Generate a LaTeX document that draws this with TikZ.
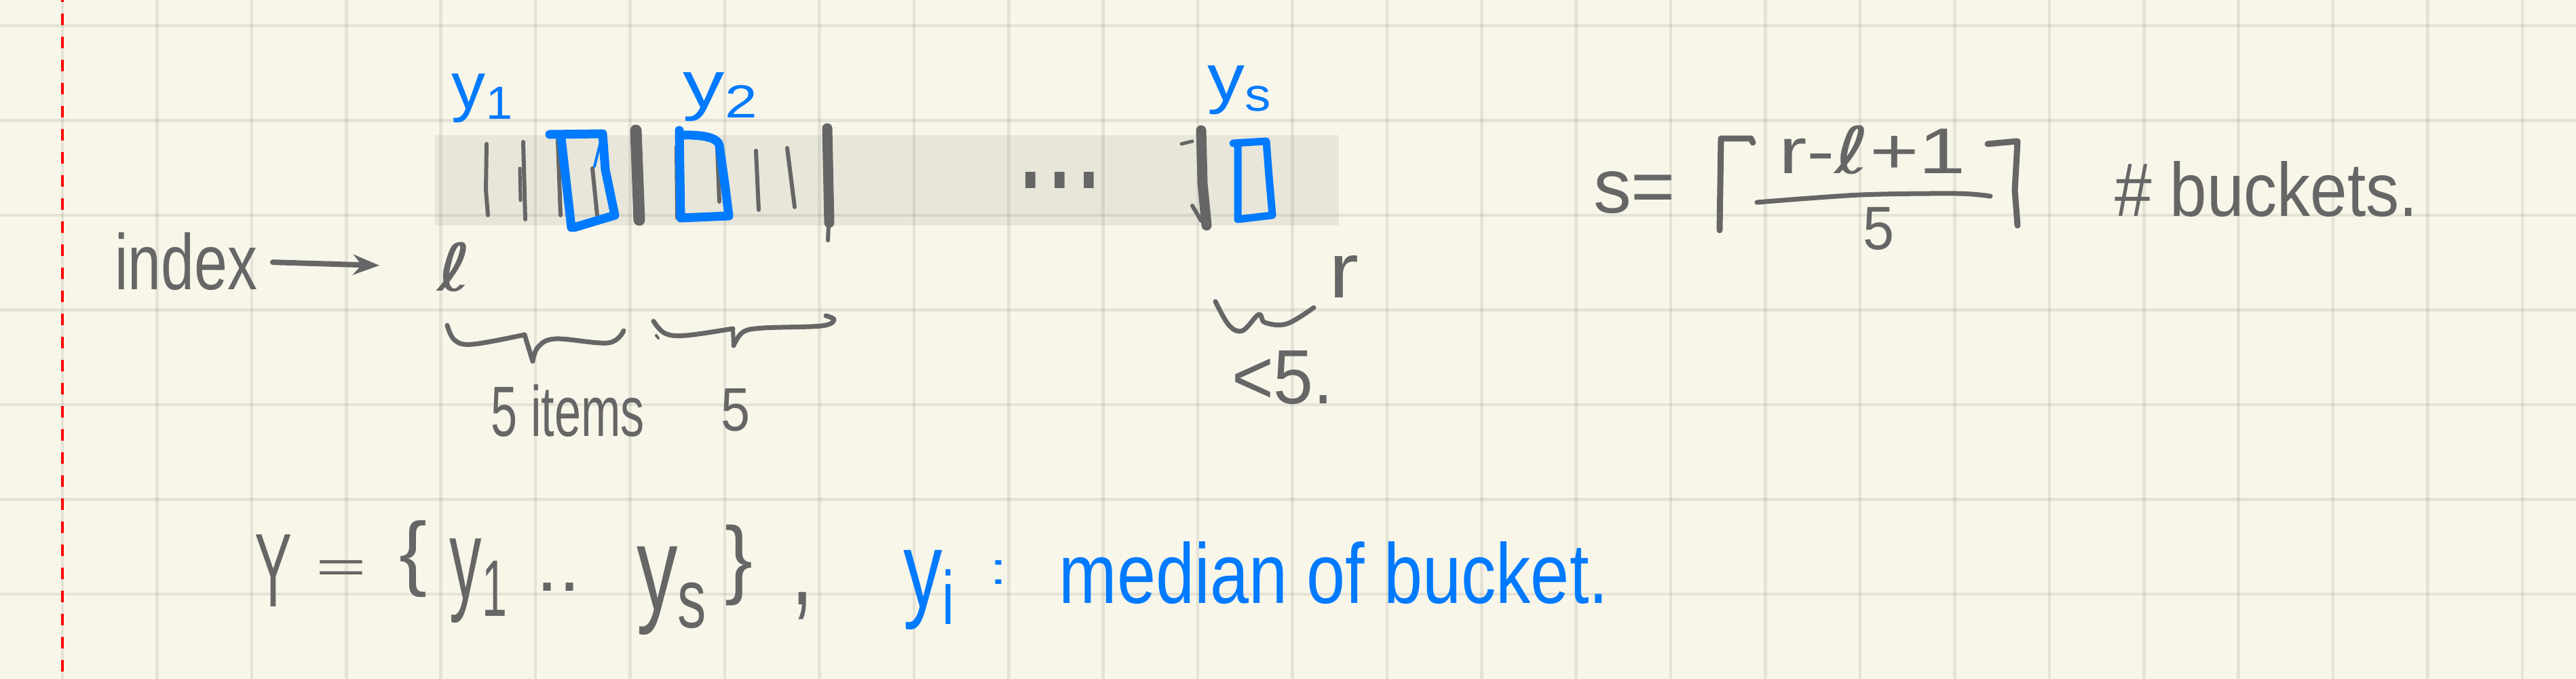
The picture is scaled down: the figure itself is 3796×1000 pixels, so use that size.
\documentclass[tikz,border=0pt]{standalone}
\usepackage{graphicx}
\usepackage{fontspec}
\setmainfont{Liberation Sans}
\newfontfamily\ellfont{DejaVu Sans}
\usetikzlibrary{arrows.meta}
\definecolor{paper}{HTML}{F8F6E9}
\definecolor{gridink}{RGB}{88,96,83}
\definecolor{inkgrey}{HTML}{666666}
\definecolor{inkblue}{HTML}{007AFF}
\definecolor{marginred}{HTML}{FF0000}
\newlength\boxw
\newlength\boxh
% \inktext{style}{name}{x0}{y0}{x1}{y1}{text}: text fitted to a box in reference pixels
\newcommand\inktext[7]{%
  \pgfmathsetlength\boxw{(#5-#3)*0.02cm}%
  \pgfmathsetlength\boxh{(#6-#4)*0.02cm}%
  \node[#1] (#2) at ({(#3+#5)/2},{(#4+#6)/2}) {\resizebox*{\boxw}{\boxh}{#7}};%
}
\tikzset{
  ginktext/.style={inner sep=0pt,outer sep=0pt,text=inkgrey},
  binktext/.style={inner sep=0pt,outer sep=0pt,text=inkblue},
  ruleline/.style={draw=gridink,draw opacity=.12,line width=2.6pt},
  gink/.style={draw=inkgrey,line width=#1*0.569pt,line cap=round,line join=round},
  bink/.style={draw=inkblue,line width=#1*0.569pt,line cap=round,line join=round},
  band/.style={fill=gridink,fill opacity=.1,draw=none},
}
\begin{document}
\begin{tikzpicture}[x=0.02cm,y=-0.02cm]
\useasboundingbox (0,0) rectangle (3796,1000);
\clip (0,0) rectangle (3796,1000);
\fill[paper] (0,0) rectangle (3796,1000);
% ruled paper
\foreach \k in {0,...,26} \draw[ruleline] ({92+139.42*\k},0) -- ({92+139.42*\k},1000);
\foreach \k in {0,...,6} \draw[ruleline] (0,{38+139.5*\k}) -- (3796,{38+139.5*\k});
\draw[draw=marginred,line width=2.3pt,dash pattern=on 9.68pt off 9.68pt] (92,-14) -- (92,1000);
% array band
\fill[band] (641,199) rectangle (1973,332);
% thin item bars
\draw[gink=6] (717,212) -- (716,280) -- (719,317);
\draw[gink=6] (771,209) -- (774,323);
\draw[gink=5] (766,248) -- (767,295);
\draw[gink=6] (822,206) -- (826,317);
\draw[gink=6] (873,248) -- (880,317);
\draw[gink=6] (997,216) -- (998,321);
\draw[gink=6] (1114,222) -- (1118,309);
\draw[gink=6] (1160,218) -- (1171,305);
\draw[gink=6] (1057,218) -- (1060,297);
% thick bucket bars
\draw[gink=17] (937,192) -- (942,324);
\draw[gink=15] (1219,189) -- (1222,328);
\draw[gink=6] (1221,330) -- (1220,354);
\draw[gink=15] (1770,192) -- (1772,270) -- (1778,332);
\draw[gink=6] (1757,303) -- (1770,325);
\draw[gink=5] (1741,212) -- (1757,208);
% median boxes
\draw[bink=13] (810,198) -- (888,197) -- (892,250) -- (906,317) -- (846,335) -- (842,335) -- (827,204);
\draw[bink=4] (888,197) -- (876,245);
\draw[bink=13] (1001,192) -- (1003,321) -- (1074,318) -- (1068,270) -- (1060,214)
  .. controls (1058,204) and (1040,198) .. (1003,199);
\draw[bink=11] (1817,211) -- (1866,208) -- (1870,260) -- (1875,317) -- (1824,323) -- (1824,214);
% labels over the band
\inktext{binktext}{yone}{666}{109}{760}{181}{y\textsubscript{1}}
\inktext{binktext}{ytwo}{1007}{107}{1122}{179}{y\textsubscript{2}}
\inktext{binktext}{yess}{1779}{97}{1878}{169}{y\textsubscript{s}}
\inktext{ginktext}{ddots}{1498}{253}{1626}{277}{...}
% index row
\inktext{ginktext}{idx}{169}{343}{379}{428}{index}
\inktext{ginktext}{lft}{644}{357}{694}{430}{\ellfont ℓ}
\draw[gink=8,-{Stealth[length=22pt,width=17pt]},shorten <=23*0.569pt,shorten >=85*0.569pt] (idx.east) -- (lft.west);
% braces
\draw[gink=7] plot[smooth,tension=.6] coordinates {(659,479) (670,501) (697,507) (773,493)};
\draw[gink=7] (773,493) -- (785,532);
\draw[gink=7] plot[smooth,tension=.6] coordinates {(785,532) (793,511) (819,499) (896,505) (919,487)};
\draw[gink=7] plot[smooth,tension=.6] coordinates {(963,473) (980,491) (1011,494) (1080,484)};
\draw[gink=6] (1080,484) -- (1081,509);
\draw[gink=7] plot[smooth,tension=.6] coordinates {(1081,509) (1095,489) (1125,483) (1210,480) (1229,471) (1217,465)};
\draw[gink=4] (967,494) -- (970,498);
\draw[gink=7] plot[smooth,tension=.6] coordinates {(1791,444) (1811,479) (1831,487) (1855,463) (1864,475) (1896,477) (1936,453)};
\inktext{ginktext}{fiveitems}{724}{566}{950}{643}{5 items}
\inktext{ginktext}{fivetwo}{1062}{572}{1105}{635}{5}
\inktext{ginktext}{rgt}{1958}{376}{2002}{438}{r}
\inktext{ginktext}{lessfive}{1815}{517}{1965}{596}{<5.}
% bucket count
\inktext{ginktext}{ess}{2348}{253}{2469}{315}{s=}
\draw[gink=9] (2583,210) -- (2580,204) -- (2536,204) -- (2534,339);
\draw[gink=9] (2929,212) -- (2973,208) -- (2969,280) -- (2973,332);
\draw[gink=7] plot[smooth,tension=.5] coordinates {(2589,298) (2741,287) (2884,285) (2933,289)};
\inktext{ginktext}{numer}{2621}{185}{2897}{257}{r-\ellfont ℓ\rmfamily +1}
\inktext{ginktext}{denom}{2745}{305}{2791}{368}{5}
\inktext{ginktext}{bucketsnote}{3116}{238}{3563}{320}{\# buckets.}
% set of medians
\inktext{ginktext}{bigy}{375}{787}{430}{893}{Y}
\inktext{ginktext}{equals}{465}{825}{540}{857}{=}
\inktext{ginktext}{lbrace}{588}{767}{629}{880}{\{}
\inktext{ginktext}{yonesub}{663}{793}{752}{917}{y\textsubscript{1}}
\inktext{ginktext}{sdots}{791}{858}{855}{870}{..}
\inktext{ginktext}{yssub}{938}{805}{1047}{935}{y\textsubscript{s}}
\inktext{ginktext}{rbrace}{1068}{773}{1109}{892}{\}}
\inktext{ginktext}{comma}{1166}{872}{1198}{912}{,}
\inktext{binktext}{yisub}{1331}{810}{1412}{927}{y\textsubscript{i}}
\inktext{binktext}{colon}{1458}{825}{1484}{860}{:}
\inktext{binktext}{mednote}{1561}{798}{2370}{890}{median of bucket.}
\end{tikzpicture}
\end{document}
